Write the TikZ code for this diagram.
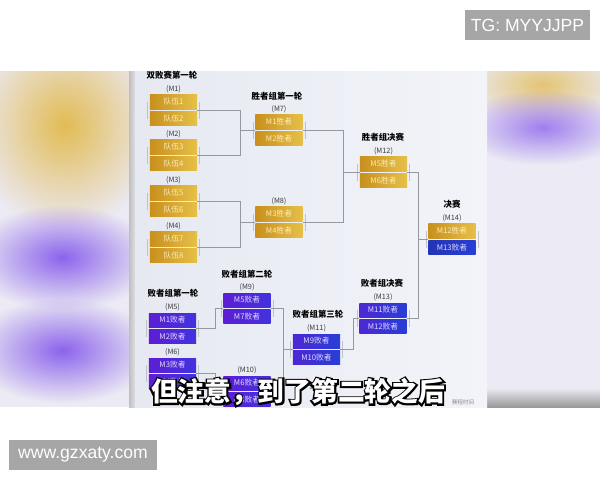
\documentclass[tikz,border=0pt]{standalone}
\usepackage{fontspec}
\setmainfont{Noto Sans CJK SC}
\newfontfamily\wmfont{Liberation Sans}
\newfontfamily\capoutline{Noto Sans CJK SC Bold}[FakeBold=14]
\usetikzlibrary{positioning, calc, fadings}
\tikzfading[name=blob, inner color=transparent!0, outer color=transparent!100]

\begin{document}
\begin{tikzpicture}
    [x=0.025cm, y=-0.025cm, node distance=0.05cm,
    link/.style={draw=linegray, line width=0.6pt},
    bar/.style={draw=linegray!60, line width=0.4pt},
    box/.style={rectangle, inner sep=0pt, minimum width=1.175cm, minimum height=0.35cm, font=\fontsize{5.5}{5.5}\selectfont},
    win/.style={box, left color=gold1, right color=gold2, text=goldtext},
    lose/.style={box, left color=violet1, right color=violet2, text=violettext},
    loseblue/.style={box, left color=violet1!70!blue2, right color=blue2, text=violettext},
    mlabel/.style={inner sep=0pt, text=labelgray, font=\fontsize{5.2}{5.2}\selectfont},
    title/.style={inner sep=0pt, font=\fontsize{6}{6}\selectfont\bfseries},
    wm/.style={fill=black!35, text=white, inner sep=0pt, font=\wmfont\fontsize{12.5}{12.5}\selectfont},
    caption/.style={inner sep=0pt, font=\fontsize{19}{19}\selectfont\bfseries}]
    \definecolor{gold1}{RGB}{200,144,28};
    \definecolor{gold2}{RGB}{230,192,72};
    \definecolor{goldtext}{RGB}{252,236,190};
    \definecolor{violet1}{RGB}{92,30,212};
    \definecolor{violet2}{RGB}{66,50,222};
    \definecolor{blue2}{RGB}{40,62,214};
    \definecolor{violettext}{RGB}{226,218,255};
    \definecolor{linegray}{RGB}{150,152,160};
    \definecolor{labelgray}{RGB}{60,60,66};
    \definecolor{bgside}{RGB}{236,234,244};
    \definecolor{panel1}{RGB}{230,233,241};
    \definecolor{panel2}{RGB}{242,244,249};
    \definecolor{blobgold}{RGB}{226,188,84};
    \definecolor{blobviolet}{RGB}{140,100,236};
    \useasboundingbox (0,0) rectangle (600,480);
    % video frame with blurred sides
    \begin{scope}
        \clip (0,71) rectangle (600,407);
        \fill[bgside] (0,71) rectangle (600,407);
        \fill[blobgold, path fading=blob] (-30,20) rectangle (160,230);
        \fill[blobviolet, path fading=blob] (-30,205) rectangle (155,310);
        \fill[blobviolet, path fading=blob] (-30,298) rectangle (155,403);
        \fill[blobgold!80!bgside, path fading=blob] (462,45) rectangle (622,125);
        \fill[blobviolet!80!bgside, path fading=blob] (458,90) rectangle (628,165);
        \shade[top color=bgside, bottom color=black!40] (487,388) rectangle (600,407);
        \shade[left color=black!25, right color=panel1] (129,71) rectangle (137,407);
        \shade[left color=panel1, right color=panel2] (135,71) rectangle (487,407);
    \end{scope}

    % titles
    \node [title] (t1) at (172,75) {双败赛第一轮};
    \node [title] (t2) at (277,96) {胜者组第一轮};
    \node [title] (t3) at (383,137) {胜者组决赛};
    \node [title] (t4) at (452,204) {决赛};
    \node [title] (t5) at (173,293) {败者组第一轮};
    \node [title] (t6) at (247,274) {败者组第二轮};
    \node [title] (t7) at (318,314) {败者组第三轮};
    \node [title] (t8) at (382,283) {败者组决赛};

    % winners bracket
    \node [win] (m1t) at (173.5,102) {队伍1};
    \node [win, below=of m1t] (m1b) {队伍2};
    \node [win] (m2t) at (173.5,147) {队伍3};
    \node [win, below=of m2t] (m2b) {队伍4};
    \node [win] (m3t) at (173.5,193) {队伍5};
    \node [win, below=of m3t] (m3b) {队伍6};
    \node [win] (m4t) at (173.5,239) {队伍7};
    \node [win, below=of m4t] (m4b) {队伍8};
    \node [win] (m7t) at (279,122) {M1胜者};
    \node [win, below=of m7t] (m7b) {M2胜者};
    \node [win] (m8t) at (279,214) {M3胜者};
    \node [win, below=of m8t] (m8b) {M4胜者};
    \node [win] (m12t) at (383.5,164) {M5胜者};
    \node [win, below=of m12t] (m12b) {M6胜者};
    \node [win] (m14t) at (452,231) {M12胜者};
    \node [box, left color=blue2!85!black, right color=blue2, text=violettext, below=of m14t] (m14b) {M13败者};

    % losers bracket
    \node [lose] (m5t) at (172.5,320) {M1败者};
    \node [lose, below=of m5t] (m5b) {M2败者};
    \node [lose] (m6t) at (172.5,365) {M3败者};
    \node [lose, below=of m6t] (m6b) {M4败者};
    \node [lose] (m9t) at (247,300) {M5败者};
    \node [lose, below=of m9t] (m9b) {M7败者};
    \node [lose] (m10t) at (247,383) {M6败者};
    \node [lose, below=of m10t] (m10b) {M8败者};
    \node [loseblue] (m11t) at (316.5,341) {M9败者};
    \node [loseblue, below=of m11t] (m11b) {M10败者};
    \node [loseblue] (m13t) at (383,310) {M11败者};
    \node [loseblue, below=of m13t] (m13b) {M12败者};

    % match labels, in and out points
    \foreach \m/\l in {m1/M1,m2/M2,m3/M3,m4/M4,m5/M5,m6/M6,m7/M7,m8/M8,m9/M9,m10/M10,m11/M11,m12/M12,m13/M13,m14/M14} {
        \node [mlabel, above=0.05cm of \m t] (\m l) {(\l)};
        \coordinate (\m i) at ($(\m t.south west)!0.5!(\m b.north west)$);
        \coordinate (\m o) at ($(\m t.south east)!0.5!(\m b.north east)$);
        \draw[bar] ($(\m t.east)+(2,0)$) -- ($(\m b.east)+(2,0)$);
        \draw[bar] ($(\m t.west)+(-2,0)$) -- ($(\m b.west)+(-2,0)$);
    }

    \draw[link] (m1o) -- ++(43,0) |- (m7i);
    \draw[link] (m2o) -- ++(43,0) |- (m7i);
    \draw[link] (m3o) -- ++(43,0) |- (m8i);
    \draw[link] (m4o) -- ++(43,0) |- (m8i);
    \draw[link] (m7o) -- ++(41,0) |- (m12i);
    \draw[link] (m8o) -- ++(41,0) |- (m12i);
    \draw[link] (m12o) -- ++(11,0) |- (m14i);
    \draw[link] (m13o) -- ++(12,0) |- (m14i);
    \draw[link] (m5o) -- ++(19,0) |- (m9i);
    \draw[link] (m6o) -- ++(19,0) |- (m10i);
    \draw[link] (m9o) -- ++(13,0) |- (m11i);
    \draw[link] (m10o) -- ++(13,0) |- (m11i);
    \draw[link] (m11o) -- ++(13,0) |- (m13i);

    \node [inner sep=0pt, text=black!45, font=\fontsize{4}{4}\selectfont] (note) at (463,402) {赛程时间};

    % subtitle with outline
    \node [caption, font=\capoutline\fontsize{19}{19}\selectfont, text=black] (capline) at (298,392) {但注意，到了第二轮之后};
    \node [caption, text=white] (cap) at (capline) {但注意，到了第二轮之后};

    % watermarks
    \node [wm, minimum width=3.125cm, minimum height=0.75cm] (tg) at (527.5,25) {TG: MYYJJPP};
    \node [wm, minimum width=3.7cm, minimum height=0.75cm] (site) at (83,455) {www.gzxaty.com};
\end{tikzpicture}
\end{document}
